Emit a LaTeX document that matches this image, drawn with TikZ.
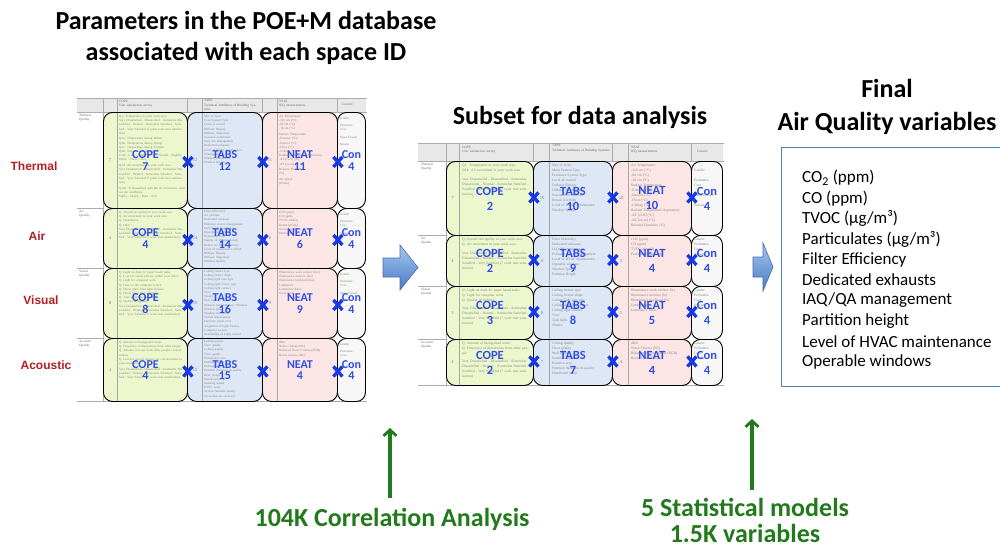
\documentclass[tikz,border=0pt]{standalone}
\usepackage{fontspec}
\setmainfont{Carlito}
\newfontfamily\arialfam{Liberation Sans}
\newfontfamily\serfam{Liberation Serif}
\usetikzlibrary{arrows.meta,calc}
\definecolor{copef}{RGB}{236,247,205}
\definecolor{tabsf}{RGB}{221,231,246}
\definecolor{neatf}{RGB}{251,229,229}
\definecolor{conf}{RGB}{247,247,247}
\definecolor{lblblue}{RGB}{48,78,232}
\definecolor{xblue}{RGB}{22,58,232}
\definecolor{redlbl}{RGB}{178,32,36}
\definecolor{grn}{RGB}{34,122,28}
\definecolor{boxblue}{RGB}{84,130,190}
\definecolor{arrtop}{RGB}{165,198,238}
\definecolor{arrbot}{RGB}{72,122,200}
\definecolor{arrdraw}{RGB}{70,110,175}
\definecolor{hdrgray}{RGB}{232,232,232}
\definecolor{txgray}{RGB}{135,135,120}
\newcounter{tx}
\newcommand{\tx}[4]{\stepcounter{tx}\node[#1,text width=#3pt] (tx\arabic{tx}) at #2 {#4};}
\newcommand{\vdsat}{Very Dissatisfied - Dissatisfied - Somewhat Dissatisfied - Neutral - Somewhat Satisfied - Satisfied - Very Satisfied}
\tikzset{
  cb/.style={draw=black, line width=0.9pt, rounded corners=9pt, inner sep=0pt, anchor=north west},
  inl/.style={draw=gray!70, line width=0.5pt},
  tl/.style={draw=gray!65, line width=0.6pt},
  lblL/.style={text=lblblue, font=\bfseries\fontsize{12}{11.5}\selectfont, align=center, inner sep=0pt},
  lblM/.style={text=lblblue, font=\bfseries\fontsize{12.5}{15}\selectfont, align=center, inner sep=0pt},
  smallnum/.style={text=gray, font=\serfam\fontsize{4.5}{5}\selectfont, inner sep=0pt},
  tinyL/.style={text=txgray, font=\serfam\fontsize{3.2}{4.2}\selectfont, inner sep=0pt, align=left, anchor=north west},
  tinyM/.style={text=txgray, font=\serfam\fontsize{3.6}{5}\selectfont, inner sep=0pt, align=left, anchor=north west},
  hdr/.style={text=gray!80!black, font=\serfam\fontsize{3.4}{4.2}\selectfont, inner sep=0pt, align=left, anchor=north west},
  xm/.pic={\draw[xblue, line width=3.3pt] (-4.5,-5) -- (4.5,5) (-4.5,5) -- (4.5,-5);},
  redl/.style={text=redlbl, font=\arialfam\bfseries\fontsize{12}{12}\selectfont, inner sep=0pt},
  bigb/.style={font=\bfseries\fontsize{26}{31}\selectfont, align=center, inner sep=0pt},
  gtext/.style={text=grn, font=\bfseries\fontsize{26}{26}\selectfont, align=center, inner sep=0pt},
  garr/.style={draw=grn, line width=3.2pt, -{Straight Barb[length=6pt,width=13pt,line width=2.8pt]}},
  barrow/.style={draw=arrdraw, line width=0.6pt, top color=arrtop, bottom color=arrbot},
  item/.style={font=\fontsize{17}{17}\selectfont, anchor=west, inner sep=0pt},
}
% left table row
\newcommand{\Lrow}[9]{%
 \node[cb,fill=copef,minimum width=84pt,minimum height=#3pt] (L#1a) at (103,#2) {};
 \node[cb,fill=tabsf,minimum width=75pt,minimum height=#3pt] (L#1b) at (187,#2) {};
 \node[cb,fill=neatf,minimum width=75pt,minimum height=#3pt] (L#1c) at (262,#2) {};
 \node[cb,fill=conf,minimum width=28pt,minimum height=#3pt] (L#1d) at (337,#2) {};
 \draw[inl] ($(L#1a.north west)+(14,0.5)$) -- ($(L#1a.south west)+(14,-0.5)$);
 \draw[inl] ($(L#1b.north west)+(15,0.5)$) -- ($(L#1b.south west)+(15,-0.5)$);
 \draw[inl] ($(L#1c.north west)+(15,0.5)$) -- ($(L#1c.south west)+(15,-0.5)$);
 \node[smallnum] (L#1s1) at ($(L#1a.west)+(7,0)$) {#4};
 \node[smallnum] (L#1s2) at ($(L#1b.west)+(8,0)$) {#5};
 \node[smallnum] (L#1s3) at ($(L#1c.west)+(8,0)$) {#6};
 \def\Lid{#1}\def\La{#7}\def\Lb{#8}\def\Lc{#9}%
}
\newcommand{\Llabels}{%
 \node[lblL] (L\Lid la) at (L\Lid a.center) {COPE\\\La};
 \node[lblL] (L\Lid lb) at (L\Lid b.center) {TABS\\\Lb};
 \node[lblL] (L\Lid lc) at (L\Lid c.center) {NEAT\\\Lc};
 \node[lblL] (L\Lid ld) at (L\Lid d.center) {Con\\4};
 \pic at ($(L\Lid a.east)+(0,1.5)$) {xm};
 \pic at ($(L\Lid b.east)+(0,1.5)$) {xm};
 \pic at ($(L\Lid c.east)+(0,1.5)$) {xm};
}
% middle table row
\newcommand{\Mrow}[9]{%
 \node[cb,fill=copef,minimum width=87pt,minimum height=#3pt] (M#1a) at (446,#2) {};
 \node[cb,fill=tabsf,minimum width=79pt,minimum height=#3pt] (M#1b) at (533,#2) {};
 \node[cb,fill=neatf,minimum width=79pt,minimum height=#3pt] (M#1c) at (612,#2) {};
 \node[cb,fill=conf,minimum width=31pt,minimum height=#3pt] (M#1d) at (691,#2) {};
 \draw[inl] ($(M#1a.north west)+(13,0.5)$) -- ($(M#1a.south west)+(13,-0.5)$);
 \draw[inl] ($(M#1b.north west)+(16,0.5)$) -- ($(M#1b.south west)+(16,-0.5)$);
 \draw[inl] ($(M#1c.north west)+(16,0.5)$) -- ($(M#1c.south west)+(16,-0.5)$);
 \node[smallnum] (M#1s1) at ($(M#1a.west)+(6.5,0)$) {#4};
 \node[smallnum] (M#1s2) at ($(M#1b.west)+(9,0)$) {#5};
 \node[smallnum] (M#1s3) at ($(M#1c.west)+(9,0)$) {#6};
 \def\Mid{#1}\def\Ma{#7}\def\Mb{#8}\def\Mc{#9}%
}
\newcommand{\Mlabels}{%
 \node[lblM] (M\Mid la) at (M\Mid a.center) {COPE\\\Ma};
 \node[lblM] (M\Mid lb) at (M\Mid b.center) {TABS\\\Mb};
 \node[lblM] (M\Mid lc) at (M\Mid c.center) {NEAT\\\Mc};
 \node[lblM] (M\Mid ld) at (M\Mid d.center) {Con\\4};
 \pic at ($(M\Mid a.east)+(0,-1)$) {xm};
 \pic at ($(M\Mid b.east)+(0,-1)$) {xm};
 \pic at ($(M\Mid c.east)+(0,-1)$) {xm};
}
\begin{document}
\begin{tikzpicture}[x=1pt,y=-1pt]
\useasboundingbox (0,0) rectangle (1000,547);
\fill[white] (0,0) rectangle (1000,547);
\clip (0,0) rectangle (1000,547);

% ---------- titles ----------
\node[bigb] (title1) at (246,37.5) {Parameters in the POE+M database\\associated with each space ID};
\node[bigb] (title2) at (580,117) {Subset for data analysis};
\node[bigb, font=\bfseries\fontsize{26}{33}\selectfont] (title3) at (887,106.5) {Final\\Air Quality variables};

% ---------- red row labels ----------
\node[redl] (rth) at (34,166) {Thermal};
\node[redl] (rair) at (37,236) {Air};
\node[redl] (rvis) at (41,300) {Visual};
\node[redl] (raco) at (46,365) {Acoustic};

% ---------- left table frame ----------
\fill[hdrgray] (77,98) rectangle (366,112);
\draw[tl] (77,98) -- (367,98) (77,112) -- (367,112);
\foreach \xx in {103,117,187,202,262,277,337} \draw[tl] (\xx,98) -- (\xx,112);
\draw[tl] (103,98) -- (103,401);
\draw[tl] (77,208) -- (103,208) (77,268) -- (103,268) (77,338) -- (103,338) (77,401) -- (367,401);
\tx{hdr}{(119,100)}{66}{COPE\\User satisfaction survey}
\tx{hdr}{(204,99.5)}{56}{TABS\\Technical Attributes of Building Systems}
\tx{hdr}{(279,100)}{56}{NEAT\\IEQ measurements}
\tx{hdr}{(342,103)}{22}{Control}
\tx{hdr}{(79,114)}{22}{Thermal\\Quality}
\tx{hdr}{(79,210)}{22}{Air\\Quality}
\tx{hdr}{(79,270)}{22}{Visual\\Quality}
\tx{hdr}{(79,340)}{22}{Acoustic\\Quality}

% row 1 thermal
\Lrow{1}{112}{96}{7}{12}{11}{7}{12}{11}
\tx{tinyL}{($(L1a.north west)+(16,3)$)}{66}{Q1: Temperature in your work area\\\vdsat{} (7 point scale user satisfaction)\\[1.5pt]Q2a: Temperature during Winter\\Q2b: Temperature during Spring\\Q2c: Temperature during Summer\\Q2d: Temperature during Fall\\Cold - Cool - Slightly Cool - Neutral - Slightly Warm - Warm - Hot\\[1.5pt]Q14: Air movement in your work area\\\vdsat{} (7 point scale user satisfaction)\\[1.5pt]Q14a: If dissatisfied with the air movement, what are the conditions:\\Stuffy - Drafty - Both - N/A}
\tx{tinyL}{($(L1b.north west)+(17,3)$)}{56}{Size of Zone\\Core System Type\\Level of control\\Diffuser Density\\Diffuser Alignment\\Seasonal switchover\\Only fan management\\Dedicated exhausts\\Level of HVAC maintenance\\Window type\\Window orientation\\Window Quality}
\tx{tinyL}{($(L1c.north west)+(17,3)$)}{56}{Air Temperature\\-110 cm (°C)\\-60 cm (°C)\\-10 cm (°C)\\[1.5pt]Surface Temperature\\-Exterior (°C)\\-Interior (°C)\\-Floor (°C)\\-Ceiling (°C)\\Radiant Temperature Asymmetry\\-ΔT [cl-fl] (°C)\\-ΔT [ex-in] (°C)\\[1.5pt]Relative Humidity\\(\%)\\[1.5pt]Air Speed\\(ft/min)}
\tx{tinyL}{($(L1d.north west)+(3,5)$)}{24}{Gender\\[3pt]Perimeter-\\Core\\[3pt]Open-Closed\\[3pt]Season}
\Llabels

% row 2 air
\Lrow{2}{208}{60}{4}{14}{6}{4}{14}{6}
\tx{tinyL}{($(L2a.north west)+(16,3)$)}{66}{Q. Overall air quality in your work area\\Q. Air movement in your work area\\Q. Cleanliness\\Q. Odor\\\vdsat{} (7 scale user satisfaction)}
\tx{tinyL}{($(L2b.north west)+(17,2)$)}{56}{Filter Efficiency\\Air systems\\Dedicated exhausts\\Pollution source management\\Only fan management\\Operable windows\\Recirculated air\\Supply air diffuser density\\Return air diffuser density\\Level of maintenance HVAC\\Diffuser Density\\Diffuser Alignment\\Window Quality}
\tx{tinyL}{($(L2c.north west)+(17,3)$)}{56}{CO2 (ppm)\\CO (ppm)\\TVOC (index)\\Radon (pCi/L)\\Ozone (ppm)\\Particulates}
\tx{tinyL}{($(L2d.north west)+(3,5)$)}{24}{Gender\\[3pt]Perimeter-\\Core\\[3pt]Season}
\Llabels

% row 3 visual
\Lrow{3}{268}{70}{8}{16}{9}{8}{16}{9}
\tx{tinyL}{($(L3a.north west)+(16,3)$)}{66}{Q. Light on desk for paper based tasks\\Q. Level of visual privacy within your office\\Q. Light for computer work\\Q. Glare in the computer screen\\Q. Direct glare from light fixtures\\Q. Direct glare from daylight\\Q. Your ability to see outside\\Q. Quality of lighting\\\vdsat{} (7 scale user satisfaction)}
\tx{tinyL}{($(L3b.north west)+(17,2)$)}{56}{Ceiling fixture type\\Ceiling fixture shape\\Ceiling light lens type\\Ceiling light louver type\\Ceiling light control\\View\\Shades\\Task light\\Window transmittance / Window\\Window glass\\Shading coefficient\\Visible transmission\\Furniture panel color\\Alignment of light fixtures\\Computer screens\\Availability of Light control}
\tx{tinyL}{($(L3c.north west)+(17,3)$)}{56}{Illuminance work surface (lux)\\Illuminance monitor (lux)\\Illuminance keyboard (lux)\\Luminance\\Luminance Ratio\\Glare Ratio}
\tx{tinyL}{($(L3d.north west)+(3,5)$)}{24}{Gender\\[3pt]Perimeter-\\Core\\[3pt]Open-Closed\\[3pt]Season}
\Llabels

% row 4 acoustic
\Lrow{4}{338}{63}{4}{15}{4}{4}{15}{4}
\tx{tinyL}{($(L4a.north west)+(16,3)$)}{66}{Q. Amount of background noise\\Q. Frequency of distractions from other people\\Q. Amount of noise from other people's conversations\\Q. Level of speech privacy for conversations in your work area\\[1.5pt]\vdsat{} (7 scale user satisfaction)}
\tx{tinyL}{($(L4b.north west)+(17,2)$)}{56}{Ceiling quality\\Floor quality\\Ceiling quality\\Floor quality\\Workstation size\\Partition height\\Partition area\\Partition thickness \& quality\\Door closed\\Sound isolation\\Masking sound\\HVAC noise\\System furniture quality\\Areas that are enclosed}
\tx{tinyL}{($(L4c.north west)+(17,3)$)}{56}{dBA\\Noise Criteria (NC)\\Balanced Noise Criteria (NCB)\\Room Criteria (RC)}
\tx{tinyL}{($(L4d.north west)+(3,5)$)}{24}{Gender\\[3pt]Perimeter-\\Core}
\Llabels

% ---------- middle table frame ----------
\fill[hdrgray] (418,143) rectangle (723,161);
\draw[tl] (418,143) -- (724,143) (418,161) -- (724,161);
\foreach \xx in {446,459,533,549,612,628,691} \draw[tl] (\xx,143) -- (\xx,161);
\draw[tl] (446,143) -- (446,385);
\draw[tl] (418,235) -- (446,235) (418,286) -- (446,286) (418,339) -- (446,339) (418,385) -- (724,385);
\tx{hdr}{(462,146)}{70}{COPE\\User satisfaction survey}
\tx{hdr}{(552,144.5)}{59}{TABS\\Technical Attributes of Building Systems}
\tx{hdr}{(631,146)}{59}{NEAT\\IEQ measurements}
\tx{hdr}{(697,150)}{24}{Control}
\tx{hdr}{(421,163)}{24}{Thermal\\Quality}
\tx{hdr}{(421,237)}{24}{Air\\Quality}
\tx{hdr}{(421,288)}{24}{Visual\\Quality}
\tx{hdr}{(421,341)}{24}{Acoustic\\Quality}

\Mrow{1}{161}{74}{7}{10}{10}{2}{10}{10}
\tx{tinyM}{($(M1a.north west)+(16,3)$)}{68}{Q1: Temperature in your work area\\Q14: Air movement in your work area\\[4pt]\vdsat{} (7 scale user satisfaction)}
\tx{tinyM}{($(M1b.north west)+(19,3)$)}{58}{Size of Zone\\Main System Type\\Perimeter System Type\\Level of control\\Diffuser Density\\Diffuser Alignment\\Seasonal Switchover\\Return Air Path\\Level of HVAC maintenance\\Window Quality}
\tx{tinyM}{($(M1c.north west)+(19,3)$)}{58}{Air Temperature\\-110 cm (°C)\\-60 cm (°C)\\-10 cm (°C)\\Surface Temperature\\-Exterior (°C)\\-Interior (°C)\\-Floor (°C)\\-Ceiling (°C)\\Radiant Temperature Asymmetry\\-ΔT [cl-fl] (°C)\\-ΔT [ex-in] (°C)\\Relative Humidity (\%)}
\tx{tinyM}{($(M1d.north west)+(3,8)$)}{26}{Gender\\[5pt]Perimeter-\\Core\\[5pt]Open-Closed\\[5pt]Season}
\Mlabels

\Mrow{2}{235}{51}{4}{9}{3}{2}{9}{4}
\tx{tinyM}{($(M2a.north west)+(16,3)$)}{68}{Q. Overall Air quality in your work area\\Q. Air movement in your work area\\[4pt]\vdsat{} (7 scale user satisfaction)}
\tx{tinyM}{($(M2b.north west)+(19,3)$)}{58}{Filter Efficiency\\Dedicated exhausts\\IAQ/QA management\\Pollution source management\\Level of HVAC maintenance\\Operable windows\\Window Quality\\Partition Height}
\tx{tinyM}{($(M2c.north west)+(19,3)$)}{58}{CO2 (ppm)\\CO (ppm)\\TVOC (µg/m3)\\Particulates (µg/m3)}
\tx{tinyM}{($(M2d.north west)+(3,3)$)}{26}{Gender\\Perimeter-\\Core\\Season}
\Mlabels

\Mrow{3}{286}{53}{3}{8}{5}{3}{8}{5}
\tx{tinyM}{($(M3a.north west)+(16,3)$)}{68}{Q. Light on desk for paper based tasks\\Q. Light for computer work\\Q. Quality of lighting\\[3pt]\vdsat{} (7 scale user satisfaction)}
\tx{tinyM}{($(M3b.north west)+(19,3)$)}{58}{Ceiling fixture type\\Ceiling fixture shape\\Ceiling light lens type\\Ceiling light louver type\\Ceiling light control\\View\\Task light\\Shades}
\tx{tinyM}{($(M3c.north west)+(19,3)$)}{58}{Illuminance work surface (lx)\\Illuminance monitor (lx)\\Illuminance keyboard (lx)\\Luminance\\Luminance Ratio}
\tx{tinyM}{($(M3d.north west)+(3,3)$)}{26}{Gender\\Perimeter-\\Core\\Season}
\Mlabels

\Mrow{4}{339}{46}{4}{7}{4}{2}{7}{4}
\tx{tinyM}{($(M4a.north west)+(16,3)$)}{68}{Q. Amount of background noise\\Q. Frequency of distractions from other people\\[3pt]\vdsat{} (7 scale user satisfaction)}
\tx{tinyM}{($(M4b.north west)+(19,3)$)}{58}{Ceiling quality\\Floor quality\\Wall quality\\Partition height\\Partition area\\Partition thickness \& quality\\Distributed noise}
\tx{tinyM}{($(M4c.north west)+(19,3)$)}{58}{dBA\\Noise Criteria (NC)\\Balanced Noise Criteria (NCB)\\Room Criteria (RC)}
\tx{tinyM}{($(M4d.north west)+(3,3)$)}{26}{Gender\\Perimeter-\\Core\\Season}
\Mlabels

% ---------- big blue arrows ----------
\path[barrow] (383,258) -- (400,258) -- (400,245) -- (418,267.5) -- (400,290) -- (400,277) -- (383,277) -- cycle;
\path[barrow] (753,257) -- (763,257) -- (763,243) -- (773,267) -- (763,291) -- (763,277) -- (753,277) -- cycle;

% ---------- final variables box ----------
\node[draw=boxblue, line width=1.2pt, fill=white, anchor=north west, minimum width=240pt, minimum height=239pt, inner sep=0pt] (finalbox) at (781,147) {};
\foreach \t [count=\i] in {CO\textsubscript{2} (ppm), CO (ppm), TVOC (µg/m³), Particulates (µg/m³), Filter Efficiency, Dedicated exhausts, IAQ/QA management, Partition height, Level of HVAC maintenance, Operable windows}
  \node[item] (item\i) at (802,{178+(\i-1)*20.4}) {\t};

% ---------- green notes ----------
\node[gtext] (corr) at (392,519) {104K Correlation Analysis};
\coordinate (corrtip) at (390,428);
\draw[garr, shorten <=10pt] (corr.north -| corrtip) -- (corrtip);
\node[gtext] (stat) at (745,520) {5 Statistical models\\1.5K variables};
\coordinate (stattip) at (752,419);
\draw[garr, shorten <=8pt] (stat.north -| stattip) -- (stattip);
\end{tikzpicture}
\end{document}
